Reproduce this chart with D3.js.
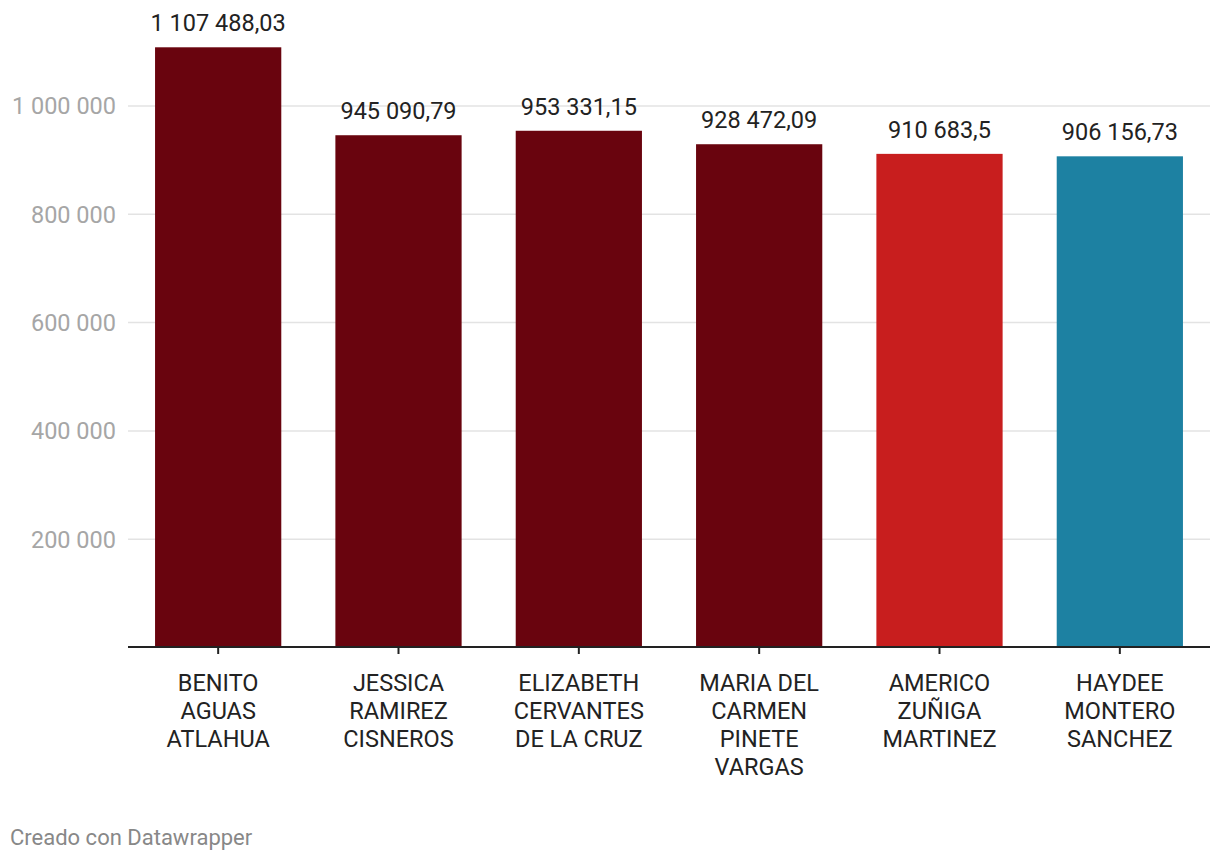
<!DOCTYPE html>
<html><head><meta charset="utf-8">
<script src="https://cdn.jsdelivr.net/npm/d3@7"></script>
<style>body{margin:0;background:#fff;font-family:Roboto,sans-serif}</style>
</head><body><svg id="c" width="1220" height="862"></svg>
<script>
const categories = [["BENITO","AGUAS","ATLAHUA"],["JESSICA","RAMIREZ","CISNEROS"],["ELIZABETH","CERVANTES","DE LA CRUZ"],["MARIA DEL","CARMEN","PINETE","VARGAS"],["AMERICO","ZUÑIGA","MARTINEZ"],["HAYDEE","MONTERO","SANCHEZ"]];
const values = [1107488.03, 945090.79, 953331.15, 928472.09, 910683.5, 906156.73];
const valueLabels = ["1 107 488,03","945 090,79","953 331,15","928 472,09","910 683,5","906 156,73"];
const colors = ["#69040e","#69040e","#69040e","#69040e","#c81e1e","#1d81a2"];
const yTicks = [200000,400000,600000,800000,1000000];

const svg = d3.select("#c");
const left = 128, right = 1210, base = 647;
const x = d3.scaleBand().domain(d3.range(values.length)).range([left,right]).paddingInner(0.3).paddingOuter(0.15);
const y = d3.scaleLinear().domain([0,1000000]).range([base,105.5]);
const fmt = v => d3.format(",")(v).replace(/,/g," ");

const ga = svg.append("g").attr("transform",`translate(${left},0)`)
  .call(d3.axisLeft(y).tickValues(yTicks).tickSize(-(right-left)).tickFormat(fmt).tickPadding(12));
ga.select(".domain").remove();
ga.selectAll(".tick line").attr("stroke","#e3e3e3").attr("stroke-width",1.5);
ga.selectAll(".tick text").attr("fill","#a6a6a6").attr("font-size",23.5).attr("font-family","Roboto").attr("dy","0.36em");

svg.append("g").selectAll("rect").data(values).join("rect")
  .attr("x",(d,i)=>x(i)).attr("width",x.bandwidth())
  .attr("y",d=>y(d)).attr("height",d=>base-y(d)).attr("fill",(d,i)=>colors[i]);

svg.append("g").selectAll("text").data(values).join("text")
  .attr("x",(d,i)=>x(i)+x.bandwidth()/2).attr("y",d=>y(d)-16)
  .attr("text-anchor","middle").attr("fill","#222").attr("font-size",23.5).text((d,i)=>valueLabels[i]);

const gx = svg.append("g").attr("transform",`translate(0,${base})`)
  .call(d3.axisBottom(x).tickSize(7).tickFormat(""));
gx.select(".domain").attr("stroke","#222").attr("stroke-width",2).attr("d",`M${left},0H${right}`);
gx.selectAll(".tick line").attr("stroke","#222").attr("stroke-width",2);

const lab = svg.append("g").selectAll("text").data(categories).join("text")
  .attr("text-anchor","middle").attr("fill","#222").attr("font-size",23.5);
lab.each(function(lines,i){
  d3.select(this).selectAll("tspan").data(lines).join("tspan")
    .attr("x",x(i)+x.bandwidth()/2).attr("y",(d,j)=>691+j*28).text(d=>d);
});

svg.append("text").attr("x",10).attr("y",845).attr("fill","#888").attr("font-size",22).text("Creado con Datawrapper");
</script></body></html>
